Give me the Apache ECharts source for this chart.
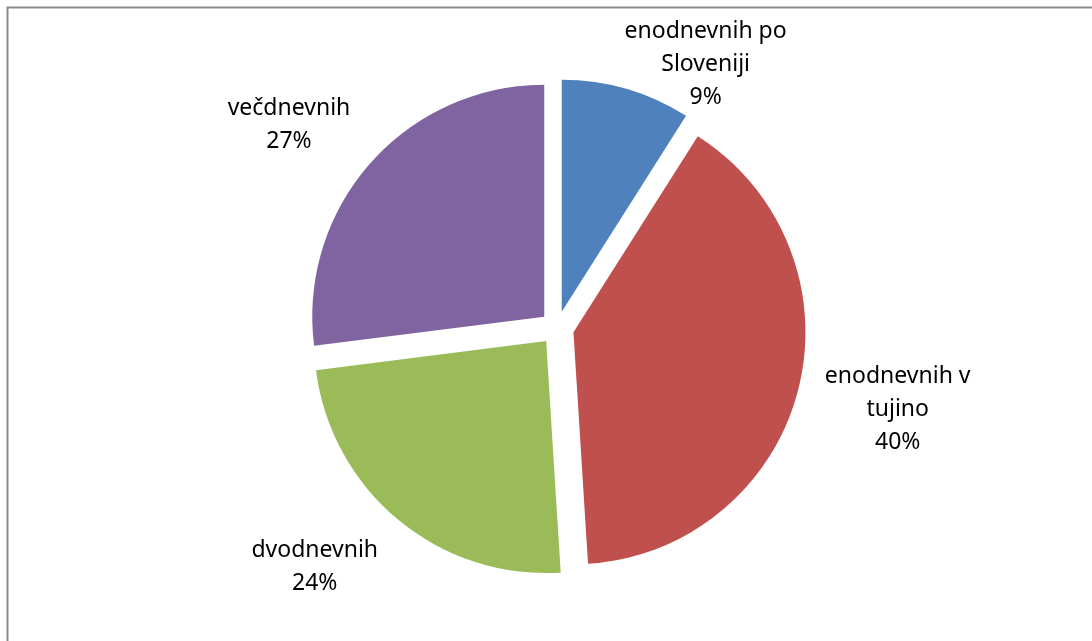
<!DOCTYPE html>
<html>
<head>
<meta charset="utf-8">
<script src="https://cdn.jsdelivr.net/npm/echarts@6/dist/echarts.min.js"></script>
<style>
  html, body { margin: 0; padding: 0; background: #fff; }
  #chart { width: 1092px; height: 641px; }
</style>
</head>
<body>
<div id="chart"></div>
<script>
// Trip types and their shares (%)
const categories = ['enodnevnih po\nSloveniji', 'enodnevnih v\ntujino', 'dvodnevnih', 'večdnevnih'];
const shares = [9, 40, 24, 27];
const colors = ['#4F81BD', '#C0504D', '#9BBB59', '#8064A2'];

// Nudge of each label away from its default outside spot
const labelNudges = [[40, -10], [50, 16], [-39, 36], [-35, -28]];

const chart = echarts.init(document.getElementById('chart'), null, { renderer: 'canvas' });

chart.setOption({
  animation: false,
  graphic: [{
    type: 'rect',
    shape: { x: 7.5, y: 7.5, width: 1200, height: 800 },
    style: { fill: '#fff', stroke: '#8c8c8c', lineWidth: 2 },
    z: -10
  }],
  series: [{
    type: 'pie',
    center: [557, 328],
    radius: 232,
    startAngle: 90,
    clockwise: true,
    selectedMode: 'multiple',
    selectedOffset: 17,
    emphasis: { disabled: true },
    itemStyle: { borderWidth: 0 },
    label: {
      show: true,
      position: 'outside',
      formatter: p => p.name + '\n' + p.value + '%',
      fontFamily: 'Noto Sans',
      fontSize: 23,
      lineHeight: 33,
      color: '#000',
      align: 'center'
    },
    labelLine: { show: false },
    labelLayout: p => ({
      dx: labelNudges[p.dataIndex][0],
      dy: labelNudges[p.dataIndex][1],
      align: 'center'
    }),
    data: categories.map((c, i) => ({
      name: c,
      value: shares[i],
      selected: true,
      itemStyle: { color: colors[i] }
    }))
  }]
});
</script>
</body>
</html>
